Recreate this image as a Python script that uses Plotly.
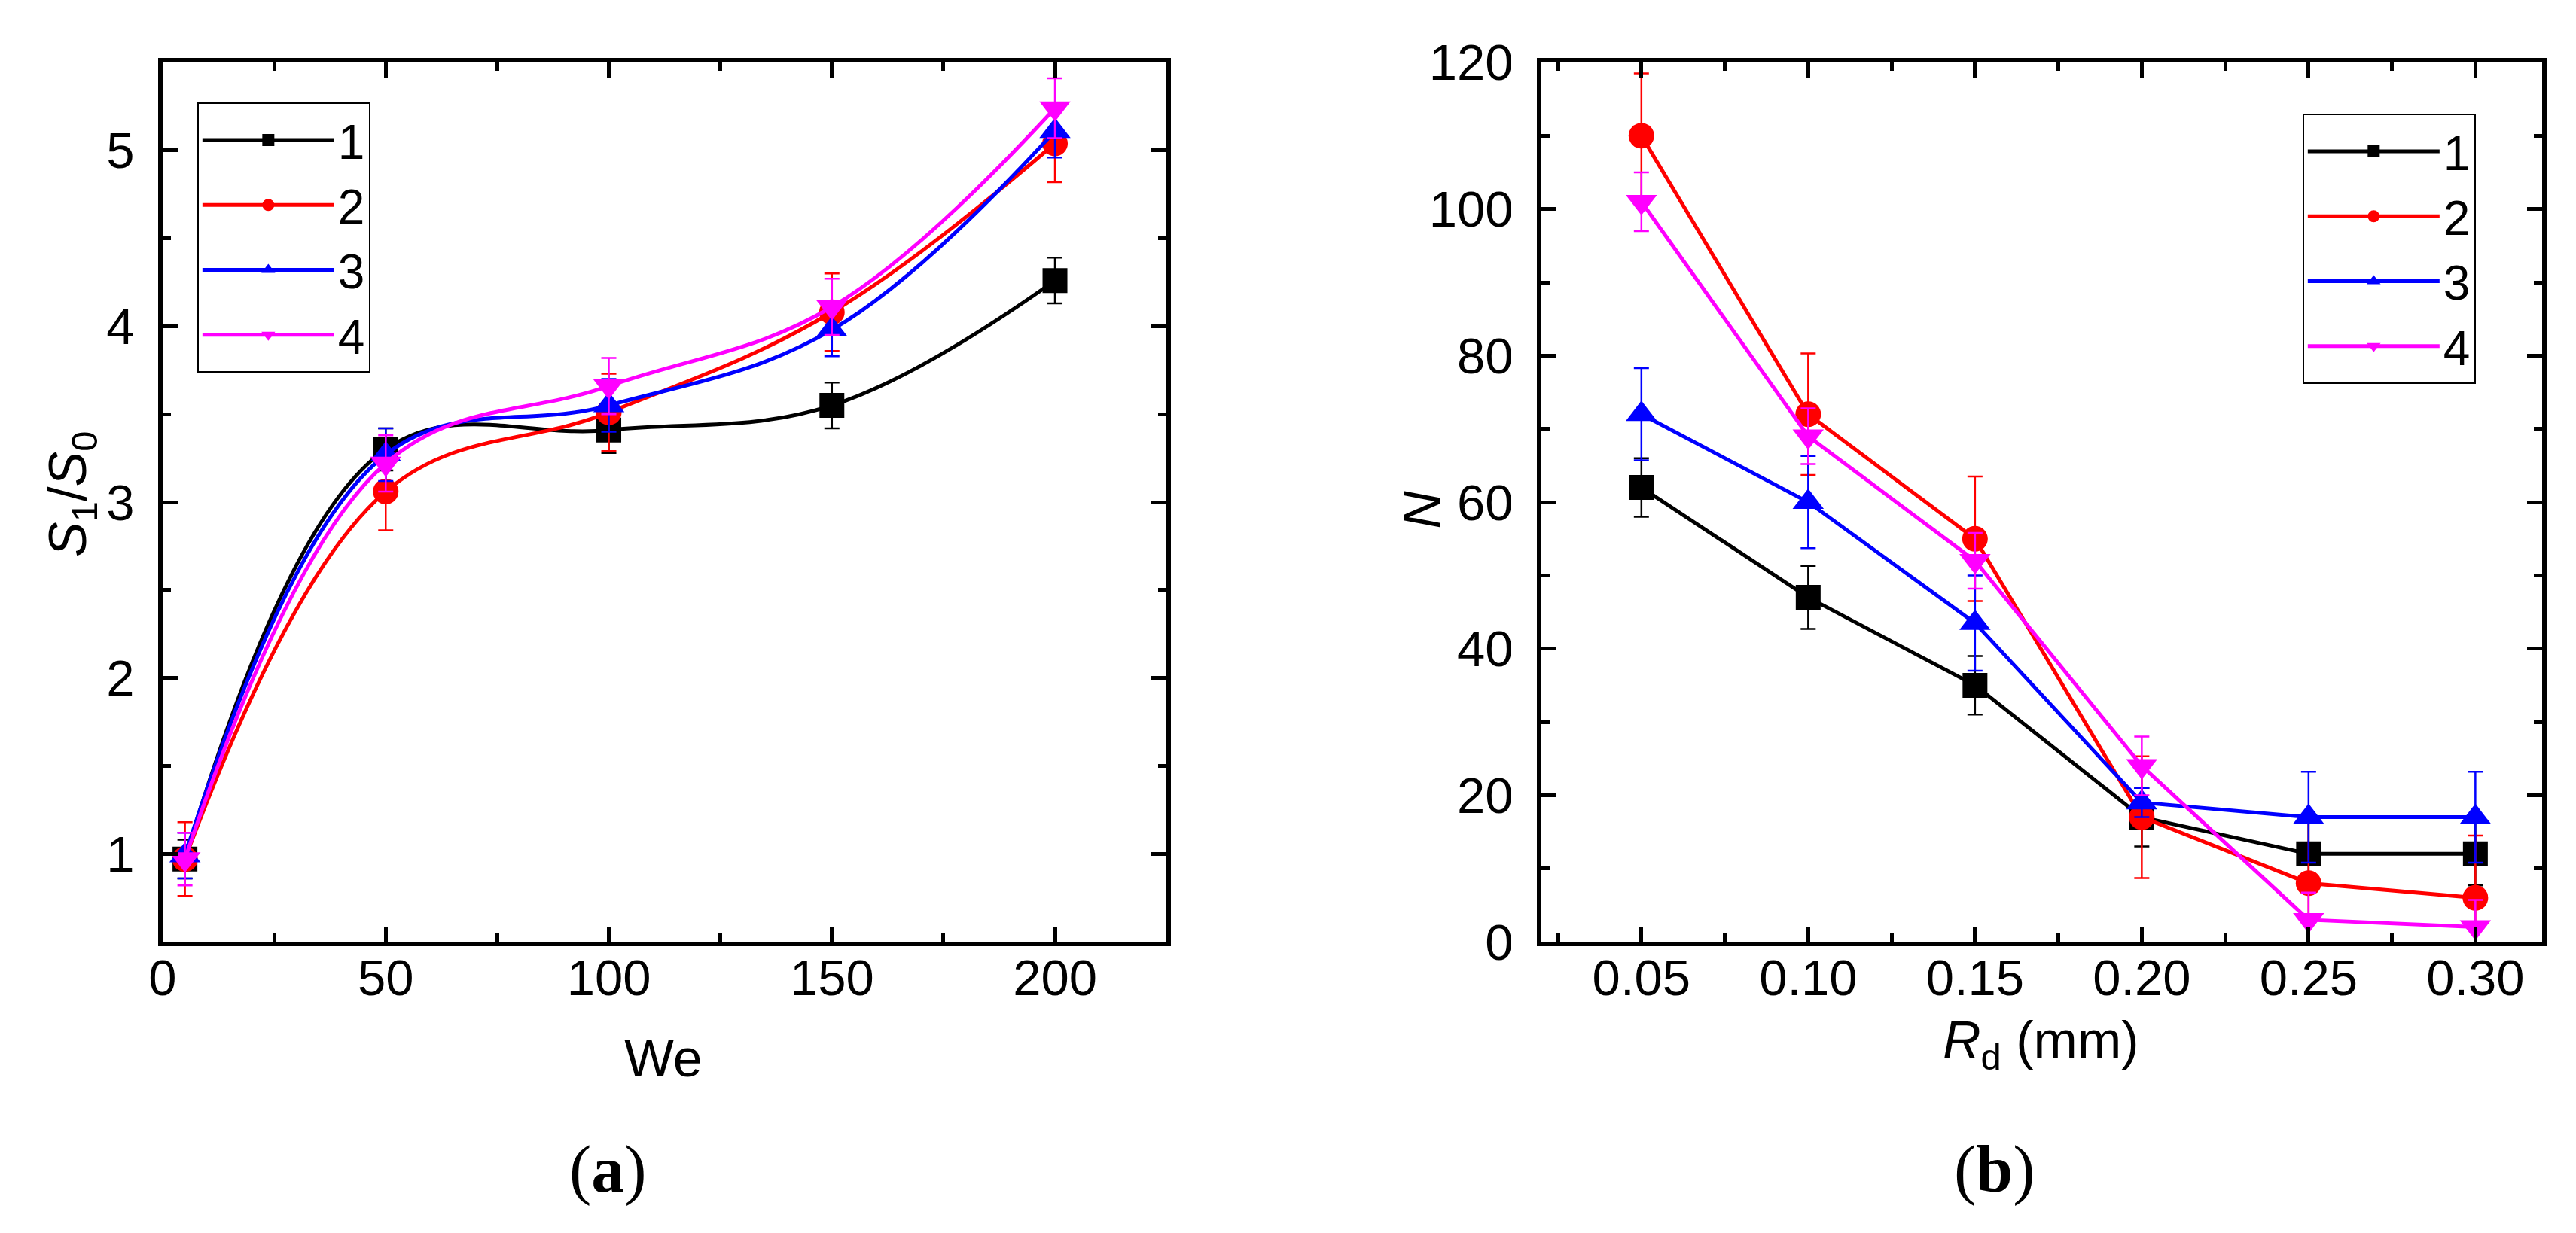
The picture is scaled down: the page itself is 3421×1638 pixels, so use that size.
import plotly.graph_objects as go

# ---- data (a): S1/S0 vs We ----
we = [5, 50, 100, 150, 200]
s_ratio_1 = [0.97, 3.30, 3.41, 3.55, 4.26]
s_ratio_2 = [0.97, 3.06, 3.51, 4.08, 5.04]
s_ratio_3 = [0.99, 3.27, 3.55, 3.98, 5.11]
s_ratio_4 = [0.97, 3.22, 3.66, 4.11, 5.24]
s_err_1 = [0.11, 0.12, 0.13, 0.13, 0.13]
s_err_2 = [0.21, 0.22, 0.22, 0.22, 0.22]
s_err_3 = [0.13, 0.15, 0.15, 0.15, 0.15]
s_err_4 = [0.15, 0.16, 0.16, 0.16, 0.17]

# ---- data (b): N vs Rd ----
rd = [0.05, 0.10, 0.15, 0.20, 0.25, 0.30]
n_1 = [62, 47, 35, 17, 12, 12]
n_2 = [110, 72, 55, 17, 8, 6]
n_3 = [72, 60, 43.5, 19, 17, 17]
n_4 = [101, 69, 52, 24, 3, 2]
n_err_1 = [4, 4.3, 4, 4, 4.3, 4.3]
n_err_2 = [8.5, 8.3, 8.5, 8.3, 8.5, 8.5]
n_err_3 = [6.3, 6.3, 6.5, 2, 6.2, 6.2]
n_err_4 = [4, 3.8, 3.8, 4, 3.7, 3.7]

names = ['1', '2', '3', '4']
colors = ['#000000', '#ff0000', '#0000ff', '#ff00ff']
symbols = ['square', 'circle', 'triangle-up', 'triangle-down']
sizes = [33, 34, 36, 36]

FONT = 'Liberation Sans, Arial, sans-serif'
SERIF = 'Liberation Serif, Times New Roman, serif'
fig = go.Figure()

# panel (a): smoothed curves through the measured points
for i, (ys, es) in enumerate(zip([s_ratio_1, s_ratio_2, s_ratio_3, s_ratio_4],
                                 [s_err_1, s_err_2, s_err_3, s_err_4])):
    fig.add_trace(go.Scatter(
        x=we, y=ys, name=names[i], mode='lines+markers',
        line=dict(color=colors[i], width=5, shape='spline', smoothing=1.1),
        marker=dict(symbol=symbols[i], size=sizes[i], color=colors[i], line=dict(width=0)),
        error_y=dict(type='data', array=es, color=colors[i], thickness=2.5, width=10),
        xaxis='x', yaxis='y', legend='legend'))

# panel (b)
for i, (ys, es) in enumerate(zip([n_1, n_2, n_3, n_4],
                                 [n_err_1, n_err_2, n_err_3, n_err_4])):
    fig.add_trace(go.Scatter(
        x=rd, y=ys, name=names[i], mode='lines+markers',
        line=dict(color=colors[i], width=5),
        marker=dict(symbol=symbols[i], size=sizes[i], color=colors[i], line=dict(width=0)),
        error_y=dict(type='data', array=es, color=colors[i], thickness=2.5, width=10),
        xaxis='x2', yaxis='y2', legend='legend2'))

axis_style = dict(showline=True, linecolor='black', linewidth=6, mirror='ticks',
                  ticks='inside', ticklen=20, tickwidth=5, tickcolor='black',
                  showgrid=False, zeroline=False,
                  tickfont=dict(family=FONT, size=67, color='black'))


def minor(step):
    return dict(ticks='inside', ticklen=11, tickwidth=5, tickcolor='black', dtick=step)


def note(text, x, y, size=70, family=FONT, angle=0):
    return dict(text=text, x=x, y=y, xref='paper', yref='paper', showarrow=False,
                xanchor='center', yanchor='middle', textangle=angle,
                font=dict(family=family, size=size, color='black'))


legend_style = dict(xanchor='left', yanchor='top', bordercolor='black', borderwidth=2,
                    bgcolor='white', font=dict(family=FONT, size=64, color='black'),
                    itemwidth=175)

fig.update_layout(
    width=3421, height=1638,
    margin=dict(l=0, r=0, t=0, b=0, autoexpand=False),
    paper_bgcolor='white', plot_bgcolor='white',
    font=dict(family=FONT, color='black'),
    xaxis=dict(axis_style, domain=[0.0608, 0.4505], anchor='y', range=[0, 225],
               dtick=50, tick0=0, ticklabelstandoff=-15, minor=minor(25)),
    yaxis=dict(axis_style, domain=[0.2411, 0.9542], anchor='x', range=[0.5, 5.5],
               dtick=1, tick0=0, ticklabelstandoff=18, minor=minor(0.5)),
    xaxis2=dict(axis_style, domain=[0.5960, 0.9845], anchor='y2', range=[0.02, 0.32],
                dtick=0.05, tick0=0, tickformat='.2f', ticklabelstandoff=-15, minor=minor(0.025)),
    yaxis2=dict(axis_style, domain=[0.2411, 0.9542], anchor='x2', range=[0, 120],
                dtick=20, tick0=0, ticklabelstandoff=18, minor=minor(10)),
    legend=dict(legend_style, x=0.0742, y=0.9219),
    legend2=dict(legend_style, x=0.8915, y=0.9127),
    annotations=[
        note('We', 0.2552, 0.1468),
        note('<i>R</i><sub>d</sub> (mm)', 0.7901, 0.1584),
        note('<i>S</i><sub>1</sub>/<i>S</i><sub>0</sub>', 0.0254, 0.6044, angle=-90),
        note('<i>N</i>', 0.5498, 0.5916, angle=-90),
        note('(<b>a</b>)', 0.2336, 0.0562, size=88, family=SERIF),
        note('(<b>b</b>)', 0.7720, 0.0562, size=88, family=SERIF),
    ],
)

fig.write_html('out.html')
